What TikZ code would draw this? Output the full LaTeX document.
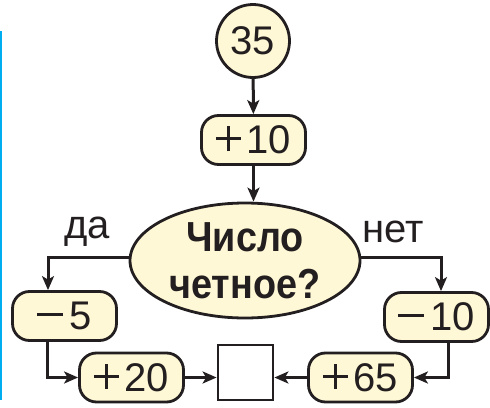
\documentclass[tikz,border=0pt]{standalone}
\usepackage{fontspec}
\setmainfont{Liberation Sans}
\newfontfamily\condfont[FakeStretch=0.9]{Liberation Sans}
\usetikzlibrary{shapes.geometric,arrows.meta,positioning}
% segni piu e meno sottili, come nel disegno
\newcommand{\segnopiu}{\rlap{\rule[13.3pt]{25pt}{3.2pt}}\hbox to 25pt{\hss\rule[2.4pt]{3.2pt}{25pt}\hss}\kern6pt}
\newcommand{\segnomeno}{\rule[13.3pt]{26pt}{3.2pt}\kern6pt}

\begin{document}
\begin{tikzpicture}[x=1pt, y=-1pt,
  blocco/.style={draw=linea, text=linea, line width=2.8pt, fill=crema, rounded corners=17pt, inner sep=0pt,
    minimum width=104pt, minimum height=49pt, font=\fontsize{40}{47}\selectfont},
  etichetta/.style={text=linea, font=\fontsize{40}{47}\selectfont, inner sep=0pt},
  freccia/.style={draw=linea, line width=3pt, -{Stealth[length=14pt, width=12pt, inset=3.5pt]}}
    ]
    % Definizione colori locali
    \definecolor{crema}{RGB}{255, 248, 214}
    \definecolor{linea}{RGB}{35, 31, 32}
    \definecolor{bordoBlu}{RGB}{0, 174, 239}

    \useasboundingbox (0,0) rectangle (490,407);
    \draw[bordoBlu, line width=2pt] (1,31) -- (1,400);

    % Blocchi
    \node[circle, draw=linea, text=linea, line width=2.8pt, fill=crema, minimum size=73pt, inner sep=0pt,
      font=\fontsize{40}{47}\selectfont] (num35) at (253,41) {35};
    \node[blocco] (add10) at (253.5,140) {\segnopiu 10};

    \node[ellipse, draw=linea, text=linea, line width=2.8pt, fill=crema, minimum width=230pt, minimum height=115pt,
      inner sep=0pt, align=center, font=\condfont\bfseries\fontsize{42}{47}\selectfont] (cond) at (245,260.5)
      {Число\\четное?};
    \node[etichetta] (da) at (87,232) {да};
    \node[etichetta] (net) at (393,232) {нет};

    \node[blocco] (sub5) at (64.5,316) {\segnomeno 5};
    \node[blocco] (sub10) at (436.5,317) {\segnomeno 10};
    \node[blocco] (add20) at (131.5,377.5) {\segnopiu 20};
    \node[blocco] (add65) at (360.5,377.5) {\segnopiu 65};
    \node[draw=linea, line width=2.8pt, fill=white, minimum size=55pt, inner sep=0pt] (result) at (245.5,372.5) {};

    % Frecce
    \draw[freccia] (num35) -- (add10);
    \draw[freccia] (add10.south) -- (add10.south |- cond.north);
    \draw[freccia] ([yshift=3.5pt]cond.west) -| ([xshift=-16.5pt]sub5.north);
    \draw[freccia] ([yshift=3.5pt]cond.east) -| ([xshift=4.5pt]sub10.north);
    \draw[freccia] ([xshift=-17pt]sub5.south) |- (add20.west);
    \draw[freccia] ([xshift=11.5pt]sub10.south) |- (add65.east);
    \draw[freccia] (add20.east) -- (add20.east -| result.west);
    \draw[freccia] (add65.west) -- (add65.west -| result.east);
    \end{tikzpicture}
\end{document}
